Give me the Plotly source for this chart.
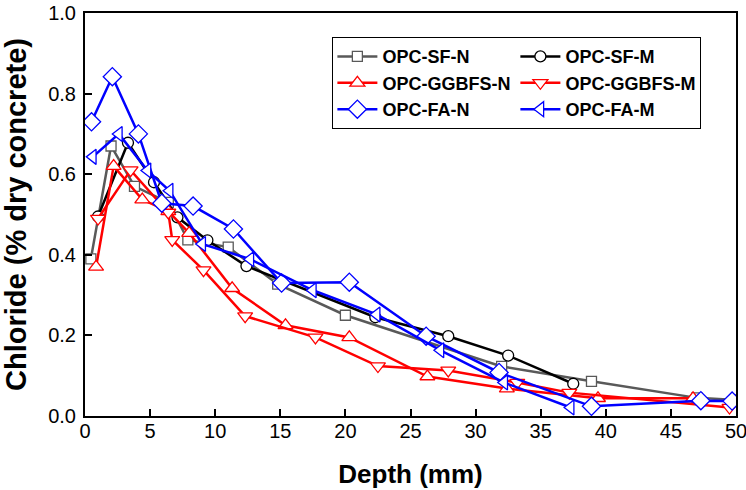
import plotly.graph_objects as go

# OPC-SF-N
sfn_x = [0.45, 2.0, 3.8, 6.4, 7.9, 11.0, 14.8, 20.0, 32.0, 38.9, 47.0, 50.0]
sfn_y = [0.39, 0.67, 0.57, 0.53, 0.437, 0.419, 0.327, 0.25, 0.123, 0.086, 0.045, 0.04]
# OPC-SF-M
sfm_x = [1.0, 3.3, 5.3, 7.1, 9.4, 12.4, 22.3, 27.9, 32.5, 37.5]
sfm_y = [0.495, 0.678, 0.58, 0.493, 0.436, 0.372, 0.245, 0.198, 0.15, 0.08]
# OPC-GGBFS-N
ggn_x = [0.85, 2.2, 4.4, 6.4, 8.0, 11.3, 15.4, 20.3, 26.3, 32.4, 39.4, 46.7]
ggn_y = [0.37, 0.62, 0.537, 0.508, 0.454, 0.317, 0.225, 0.195, 0.098, 0.068, 0.044, 0.044]
# OPC-GGBFS-M
ggm_x = [1.0, 3.5, 6.4, 6.7, 9.1, 12.3, 17.7, 22.5, 27.9, 33.2, 37.2, 49.5]
ggm_y = [0.49, 0.61, 0.505, 0.437, 0.362, 0.248, 0.195, 0.124, 0.113, 0.083, 0.058, 0.021]
# OPC-FA-N
fan_x = [0.5, 2.1, 4.1, 5.9, 8.3, 11.4, 15.1, 20.3, 26.2, 31.8, 38.9, 47.3, 49.7]
fan_y = [0.73, 0.842, 0.70, 0.528, 0.521, 0.464, 0.33, 0.332, 0.198, 0.108, 0.024, 0.038, 0.037]
# OPC-FA-M
fam_x = [0.6, 2.6, 4.8, 6.5, 9.0, 12.7, 17.5, 22.4, 27.3, 32.2, 37.3]
fam_y = [0.643, 0.70, 0.609, 0.559, 0.427, 0.389, 0.312, 0.252, 0.163, 0.083, 0.021]

names = ["OPC-SF-N", "OPC-SF-M", "OPC-GGBFS-N", "OPC-GGBFS-M", "OPC-FA-N", "OPC-FA-M"]
xs = [sfn_x, sfm_x, ggn_x, ggm_x, fan_x, fam_x]
ys = [sfn_y, sfm_y, ggn_y, ggm_y, fan_y, fam_y]
colors = ["#595959", "#000000", "#ff0000", "#ff0000", "#0000ff", "#0000ff"]
symbols = ["square", "circle", "triangle-up", "triangle-down", "diamond", "triangle-left"]
sizes = [10, 11, 13, 13, 14, 13]
groups = ["a", "b", "a", "b", "a", "b"]

fig = go.Figure()
for n, x, y, c, s, sz, g in zip(names, xs, ys, colors, symbols, sizes, groups):
    fig.add_trace(go.Scatter(
        x=x, y=y, name=n, mode="lines+markers", legendgroup=g,
        line=dict(color=c, width=2.5),
        marker=dict(symbol=s, size=sz, color="white", line=dict(color=c, width=1.3)),
    ))

font = "Arial, Liberation Sans, sans-serif"
fig.update_layout(
    width=746, height=490,
    margin=dict(l=85, r=10, t=13, b=74),
    plot_bgcolor="white", paper_bgcolor="white",
    font=dict(family=font, size=20, color="black"),
    showlegend=True,
    legend=dict(
        orientation="h", x=0.38, y=0.94, xanchor="left", yanchor="top",
        bordercolor="black", borderwidth=1, bgcolor="white",
        font=dict(family=font, size=18, color="black", weight="bold"),
        traceorder="grouped", tracegroupgap=0,
        itemwidth=40,
    ),
    xaxis=dict(
        range=[0, 50], dtick=5, tick0=0, showgrid=False, zeroline=False,
        showline=True, linecolor="black", linewidth=2, mirror=True,
        ticks="inside", ticklen=7, tickwidth=1.5, tickcolor="black",
        tickfont=dict(size=20), automargin=False, ticklabelstandoff=-4,
        ticklabeloverflow="allow",
        title=dict(text="Depth (mm)", font=dict(size=26, weight="bold"), standoff=24),
    ),
    yaxis=dict(
        range=[0, 1.0], dtick=0.2, tick0=0, tickformat=".1f", showgrid=False, zeroline=False,
        showline=True, linecolor="black", linewidth=2, mirror=True,
        ticks="inside", ticklen=7, tickwidth=1.5, tickcolor="black",
        tickfont=dict(size=20), automargin=False, ticklabelstandoff=3,
        title=dict(text="Chloride (% dry concrete)", font=dict(size=29, weight="bold"), standoff=14),
    ),
)
fig.write_html("out.html", config={"displayModeBar": False},
               post_script="document.body.style.margin='0';document.body.style.overflow='hidden';")
